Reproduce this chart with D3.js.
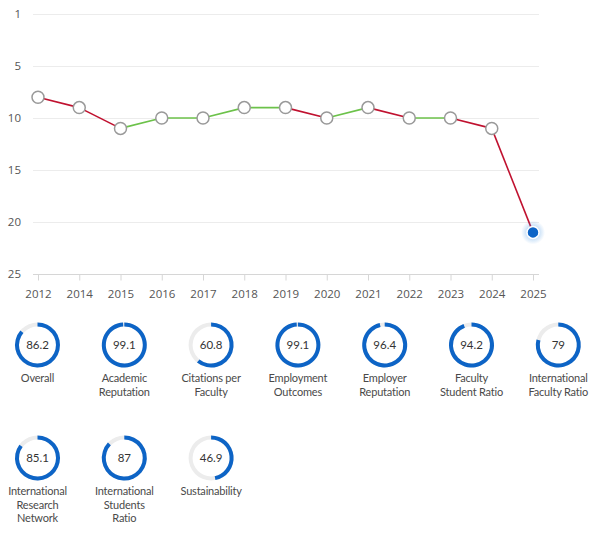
<!DOCTYPE html>
<html lang="en">
<head>
    <meta charset="UTF-8">
    <title>Ranking history</title>
    <script src="https://d3js.org/d3.v7.min.js"></script>
    <style>
        body { margin: 0; background: #fff; font-family: "Open Sans", sans-serif; }
        .grid line { stroke: #ececec; stroke-width: 1px; }
        .axis text { fill: #555; font-size: 11.5px; font-family: "Open Sans", sans-serif; }
        .seg { fill: none; stroke-width: 1.6px; }
        .score { fill: #333; font-size: 11.5px; font-family: Lato, sans-serif; }
        .label { fill: #4a4a4a; font-size: 11px; letter-spacing: -0.2px; font-family: Lato, sans-serif; }
    </style>
</head>
<body>
<script>

    // Years on the x axis (no 2013)
    var years = ["2012", "2014", "2015", "2016", "2017", "2018", "2019", "2020", "2021", "2022", "2023", "2024", "2025"];
    // Rank each year (lower is better)
    var ranks = [8, 9, 11, 10, 10, 9, 9, 10, 9, 10, 10, 11, 21];
    // y axis ticks and the text shown for them
    var rankTicks = [0, 5, 10, 15, 20, 25];
    var rankTickLabels = ["1", "5", "10", "15", "20", "25"];

    // Indicator scores
    var indicators = [
        ["Overall"],
        ["Academic", "Reputation"],
        ["Citations per", "Faculty"],
        ["Employment", "Outcomes"],
        ["Employer", "Reputation"],
        ["Faculty", "Student Ratio"],
        ["International", "Faculty Ratio"],
        ["International", "Research", "Network"],
        ["International", "Students", "Ratio"],
        ["Sustainability"]
    ];
    var scores = [86.2, 99.1, 60.8, 99.1, 96.4, 94.2, 79, 85.1, 87, 46.9];

    var W = 614, H = 538;
    var red = "#c0112f", green = "#6cc24a", blue = "#0d64c6";

    var svg = d3.select("body").append("svg")
        .attr("width", W)
        .attr("height", H);

    // glow for the current year point
    var defs = svg.append("defs");
    var glow = defs.append("radialGradient").attr("id", "glow");
    glow.append("stop").attr("offset", "35%").attr("stop-color", "#4a98e4").attr("stop-opacity", 0.4);
    glow.append("stop").attr("offset", "100%").attr("stop-color", "#4a98e4").attr("stop-opacity", 0);

    // scales
    var x = d3.scalePoint().domain(years).range([38, 533]);
    var y = d3.scaleLinear().domain([0, 25]).range([14, 274]);

    // gridlines
    svg.append("g")
        .attr("class", "grid")
        .selectAll("line")
        .data(rankTicks.slice(0, -1))
        .enter().append("line")
        .attr("x1", 33).attr("x2", 539)
        .attr("y1", function(d) { return y(d) + 0.5; })
        .attr("y2", function(d) { return y(d) + 0.5; });

    // y axis (labels only)
    var yAxis = svg.append("g")
        .attr("class", "axis")
        .attr("transform", "translate(21,0)")
        .call(d3.axisLeft(y).tickValues(rankTicks)
            .tickFormat(function(d, i) { return rankTickLabels[i]; })
            .tickSize(0).tickPadding(0));
    yAxis.select(".domain").remove();

    // x axis
    var xAxis = svg.append("g")
        .attr("class", "axis")
        .attr("transform", "translate(0," + (y(25) + 0.5) + ")")
        .call(d3.axisBottom(x).tickSize(6).tickPadding(9).tickSizeOuter(0));
    xAxis.select(".domain").attr("d", "M33,0H539").attr("stroke", "#d6d6d6");
    xAxis.selectAll(".tick line").attr("stroke", "#d6d6d6");

    // line segments, red when the rank gets worse, green otherwise
    var pairs = d3.pairs(d3.range(years.length));
    svg.append("g")
        .selectAll("line")
        .data(pairs)
        .enter().append("line")
        .attr("class", "seg")
        .attr("x1", function(p) { return x(years[p[0]]); })
        .attr("y1", function(p) { return y(ranks[p[0]]); })
        .attr("x2", function(p) { return x(years[p[1]]); })
        .attr("y2", function(p) { return y(ranks[p[1]]); })
        .attr("stroke", function(p) { return ranks[p[1]] > ranks[p[0]] ? red : green; });

    // markers
    var last = years.length - 1;
    svg.append("circle")
        .attr("cx", x(years[last])).attr("cy", y(ranks[last]))
        .attr("r", 12).attr("fill", "url(#glow)");

    svg.append("g")
        .selectAll("circle")
        .data(years)
        .enter().append("circle")
        .attr("cx", function(d) { return x(d); })
        .attr("cy", function(d, i) { return y(ranks[i]); })
        .attr("r", 6)
        .attr("fill", function(d, i) { return i === last ? blue : "#fff"; })
        .attr("stroke", function(d, i) { return i === last ? "#fff" : "#999"; })
        .attr("stroke-width", 1.5);

    // indicator donuts
    var perRow = 7, colW = 86.8, x0 = 37.5, rowY = [345, 458];
    var arc = d3.arc().innerRadius(18.5).outerRadius(22.5).startAngle(0);

    var cells = svg.append("g")
        .selectAll("g")
        .data(indicators)
        .enter().append("g")
        .attr("transform", function(d, i) {
            return "translate(" + (x0 + (i % perRow) * colW) + "," + rowY[Math.floor(i / perRow)] + ")";
        });

    cells.append("path")
        .attr("fill", "#ececec")
        .attr("d", arc.endAngle(2 * Math.PI)());

    cells.append("path")
        .attr("fill", blue)
        .attr("d", function(d, i) { return arc.endAngle(2 * Math.PI * scores[i] / 100)(); });

    cells.append("text")
        .attr("class", "score")
        .attr("text-anchor", "middle")
        .attr("dy", "0.36em")
        .text(function(d, i) { return scores[i]; });

    cells.append("text")
        .attr("class", "label")
        .attr("text-anchor", "middle")
        .selectAll("tspan")
        .data(function(d) { return d; })
        .enter().append("tspan")
        .attr("x", 0)
        .attr("y", function(d, i) { return 37 + i * 13.5; })
        .text(function(d) { return d; });

</script>
</body>
</html>
